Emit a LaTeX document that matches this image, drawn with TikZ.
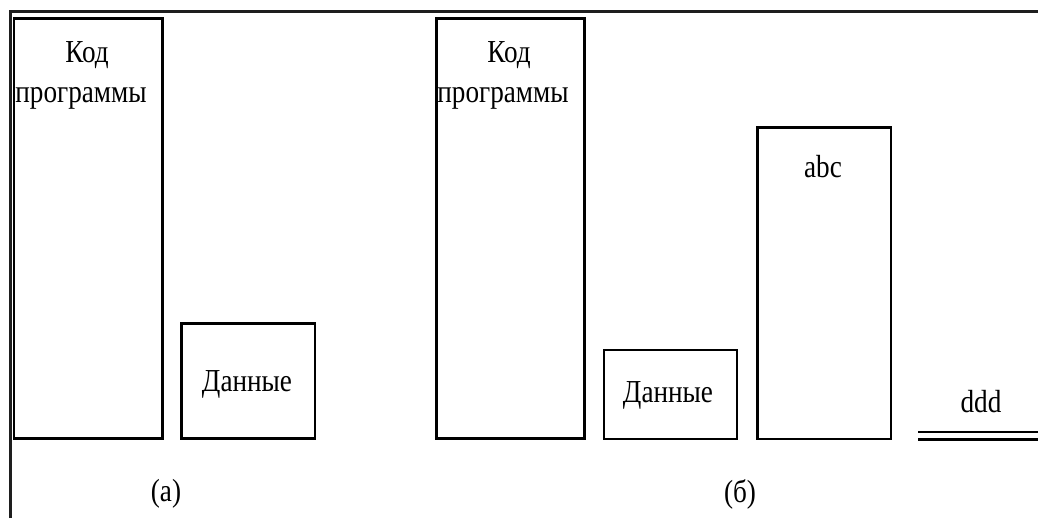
\documentclass[tikz,border=0pt]{standalone}
\usepackage{fontspec}
\setmainfont{Liberation Serif}[FakeStretch=0.85]
\usetikzlibrary{positioning}

\begin{document}
\begin{tikzpicture}[x=0.75pt,y=0.75pt,yscale=-1,xscale=1,
  box/.style={line width=2.2pt},
  lbl/.style={inner sep=0.75pt,font=\fontsize{24}{26}\selectfont}]
\useasboundingbox (0,0) rectangle (1038,518);

%Frame
\draw [line width=1.6pt,color={rgb, 255:red, 30; green, 30; blue, 30 }] (10.5,518) -- (10.5,11.5) -- (1038,11.5) ;

%Shape: Rectangle (a) code
\draw [box] (14,18.5) rectangle (162.5,438.5) ;
%Shape: Rectangle (a) data
\draw [box] (181.5,323.5) rectangle (315,438.5) ;
%Shape: Rectangle (b) code
\draw [box] (436.5,18.5) rectangle (584.5,438.5) ;
%Shape: Rectangle (b) data
\draw [box] (604,350) rectangle (737,439) ;
%Shape: Rectangle (b) abc
\draw [box] (757.5,127.5) rectangle (891,439) ;
%Double line ddd
\coordinate (dddL) at (918,432) ;
\coordinate (dddR) at (1038,432) ;
\coordinate (dddL2) at (918,439.5) ;
\coordinate (dddR2) at (1038,439.5) ;
\draw [line width=2.1pt] (dddL) -- (dddR) ;
\draw [line width=2.4pt] (dddL2) -- (dddR2) ;

% Text Node
\node [lbl] (kodA) at (87,55) {Код};
\node [lbl] (progA) at (81,98) {программы};
\node [lbl] (dataA) at (247,384) {Данные};
\node [lbl] (labA) at (166,494) {(а)};
% Text Node
\node [lbl] (kodB) at (509,55) {Код};
\node [lbl] (progB) at (503,98) {программы};
\node [lbl] (dataB) at (668,395) {Данные};
\node [lbl] (abc) at (823,167) {abc};
\node [lbl] (ddd) at (981,402) {ddd};
\node [lbl] (labB) at (740,494) {(б)};
\end{tikzpicture}
\end{document}
